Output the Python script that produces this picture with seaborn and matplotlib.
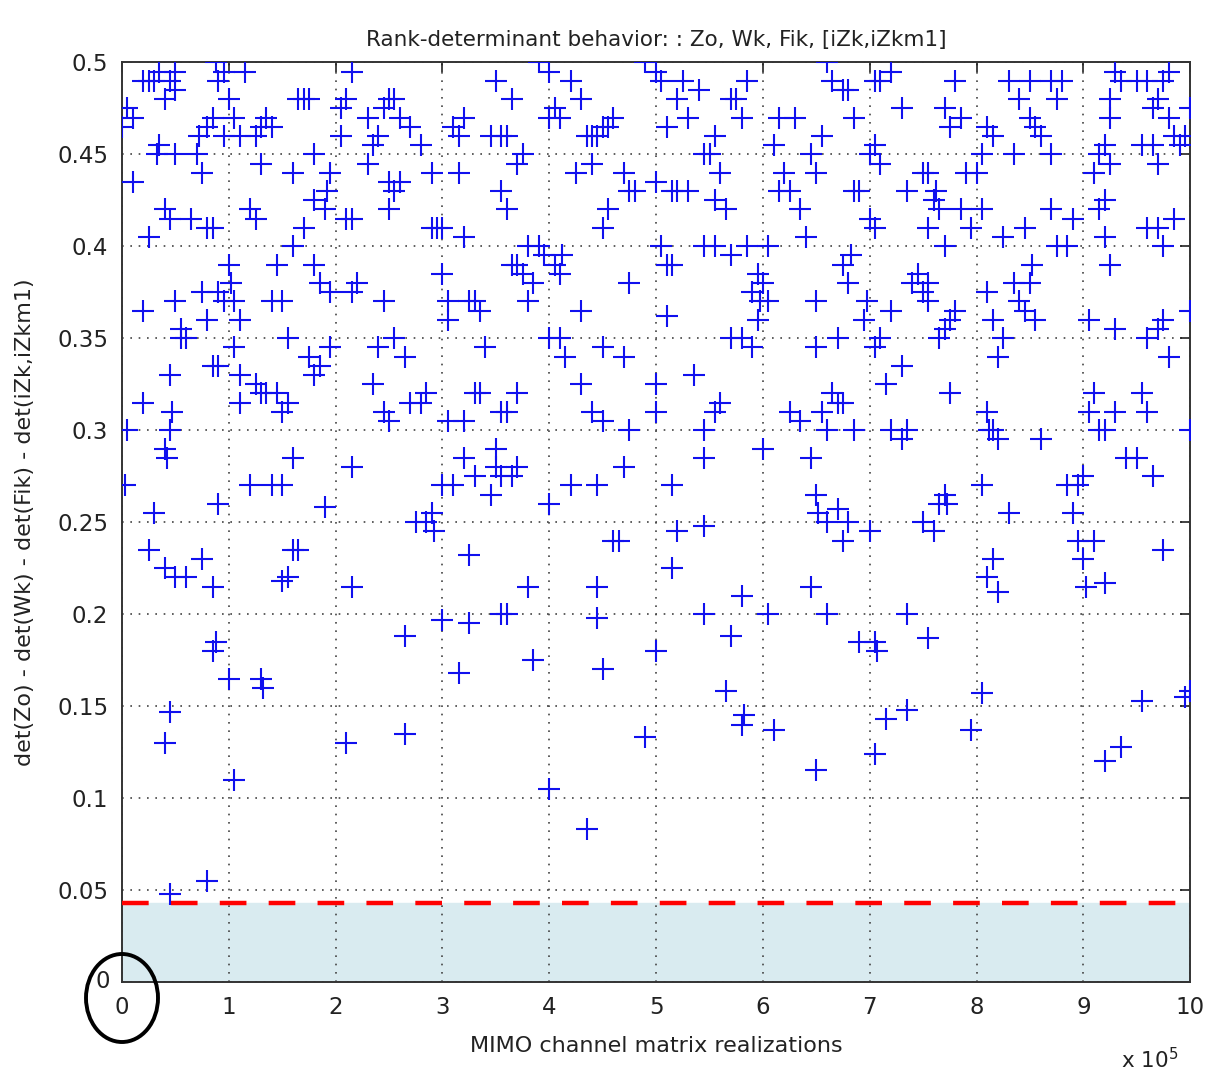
import pandas as pd
import matplotlib.pyplot as plt
import seaborn as sns
from matplotlib.patches import Ellipse

# Điểm, chia theo từng khoảng x (đơn vị 1e5)
band_0 = [(0.0, 0.465), (0.05, 0.475), (0.1, 0.47), (0.03, 0.27), (0.05, 0.30), (0.1, 0.435),
          (0.2, 0.49), (0.25, 0.49), (0.3, 0.49), (0.35, 0.455), (0.35, 0.495), (0.4, 0.48),
          (0.45, 0.49), (0.5, 0.485), (0.5, 0.495), (0.2, 0.315), (0.2, 0.365), (0.25, 0.405),
          (0.25, 0.235), (0.3, 0.255), (0.33, 0.45), (0.4, 0.42), (0.45, 0.415), (0.5, 0.45),
          (0.55, 0.35), (0.5, 0.37), (0.45, 0.33), (0.4, 0.29), (0.45, 0.30), (0.42, 0.285),
          (0.47, 0.31), (0.4, 0.225), (0.5, 0.22), (0.6, 0.22), (0.6, 0.35), (0.55, 0.355),
          (0.4, 0.13), (0.45, 0.147), (0.45, 0.048), (0.65, 0.415), (0.7, 0.45), (0.72, 0.46),
          (0.75, 0.44), (0.75, 0.375), (0.8, 0.36), (0.8, 0.41), (0.85, 0.41), (0.8, 0.465),
          (0.85, 0.47), (0.9, 0.49), (0.88, 0.5), (0.85, 0.335), (0.9, 0.335), (0.9, 0.375),
          (0.95, 0.37), (0.9, 0.26), (0.85, 0.215), (0.75, 0.23), (0.85, 0.18), (0.88, 0.185),
          (0.8, 0.055), (0.95, 0.495), (1.0, 0.48), (0.95, 0.46)]
band_1 = [(1.0, 0.39), (1.02, 0.38), (1.05, 0.37), (1.05, 0.345), (1.1, 0.33), (1.1, 0.315),
          (1.1, 0.36), (1.05, 0.47), (1.1, 0.46), (1.15, 0.495), (1.2, 0.42), (1.25, 0.415),
          (1.25, 0.46), (1.3, 0.445), (1.3, 0.465), (1.35, 0.47), (1.4, 0.465), (1.35, 0.32),
          (1.4, 0.37), (1.45, 0.39), (1.45, 0.32), (1.5, 0.27), (1.4, 0.27), (1.5, 0.37),
          (1.55, 0.35), (1.5, 0.31), (1.55, 0.315), (1.2, 0.27), (1.25, 0.325), (1.3, 0.32),
          (1.0, 0.165), (1.05, 0.11), (1.3, 0.165), (1.32, 0.16), (1.6, 0.285), (1.6, 0.235),
          (1.55, 0.22), (1.65, 0.235), (1.5, 0.218), (1.6, 0.4), (1.6, 0.44), (1.65, 0.48),
          (1.7, 0.48), (1.75, 0.48), (1.7, 0.41), (1.75, 0.34), (1.8, 0.45), (1.8, 0.39),
          (1.85, 0.38), (1.85, 0.335), (1.9, 0.42), (1.92, 0.43), (1.95, 0.44), (1.95, 0.375),
          (1.95, 0.345), (1.9, 0.258), (1.8, 0.425), (1.8, 0.33)]
band_2 = [(2.05, 0.475), (2.1, 0.48), (2.15, 0.495), (2.1, 0.415), (2.15, 0.415), (2.05, 0.46),
          (2.2, 0.38), (2.15, 0.375), (2.3, 0.47), (2.3, 0.445), (2.35, 0.455), (2.4, 0.46),
          (2.45, 0.475), (2.5, 0.48), (2.55, 0.48), (2.5, 0.42), (2.55, 0.43), (2.6, 0.47),
          (2.45, 0.37), (2.4, 0.345), (2.35, 0.325), (2.45, 0.31), (2.5, 0.305), (2.55, 0.35),
          (2.65, 0.34), (2.7, 0.315), (2.8, 0.315), (2.75, 0.25), (2.85, 0.32), (2.9, 0.41),
          (2.95, 0.41), (2.9, 0.44), (2.8, 0.455), (2.7, 0.465), (2.85, 0.25), (2.9, 0.255),
          (2.92, 0.245), (2.15, 0.28), (2.15, 0.215), (2.1, 0.13), (2.65, 0.188), (2.65, 0.135),
          (2.5, 0.435), (2.6, 0.435)]
band_3 = [(3.0, 0.41), (3.0, 0.385), (3.05, 0.36), (3.05, 0.37), (3.1, 0.465), (3.15, 0.46),
          (3.15, 0.44), (3.2, 0.47), (3.2, 0.405), (3.25, 0.37), (3.3, 0.37), (3.35, 0.365),
          (3.35, 0.32), (3.3, 0.32), (3.0, 0.27), (3.05, 0.305), (3.1, 0.27), (3.2, 0.285),
          (3.2, 0.305), (3.3, 0.275), (3.15, 0.168), (3.0, 0.197), (3.25, 0.195), (3.25, 0.232),
          (3.4, 0.345), (3.45, 0.46), (3.5, 0.49), (3.55, 0.46), (3.6, 0.46), (3.65, 0.48),
          (3.55, 0.43), (3.6, 0.42), (3.7, 0.445), (3.75, 0.45), (3.65, 0.39), (3.7, 0.39),
          (3.75, 0.385), (3.8, 0.40), (3.8, 0.37), (3.85, 0.38), (3.9, 0.4), (3.6, 0.31),
          (3.55, 0.31), (3.5, 0.29), (3.45, 0.265), (3.5, 0.28), (3.55, 0.275), (3.7, 0.28),
          (3.65, 0.275), (3.7, 0.32), (3.55, 0.2), (3.6, 0.2), (3.8, 0.215), (3.85, 0.175),
          (3.9, 0.5), (4.0, 0.495)]
band_4 = [(4.0, 0.47), (4.05, 0.475), (4.1, 0.47), (4.05, 0.39), (4.1, 0.385), (4.12, 0.395),
          (3.95, 0.395), (4.0, 0.35), (4.1, 0.35), (4.15, 0.34), (4.3, 0.365), (4.25, 0.44),
          (4.4, 0.445), (4.35, 0.46), (4.4, 0.46), (4.45, 0.46), (4.5, 0.465), (4.2, 0.49),
          (4.3, 0.48), (4.55, 0.465), (4.55, 0.42), (4.7, 0.44), (4.75, 0.43), (4.8, 0.43),
          (4.6, 0.47), (4.5, 0.41), (4.75, 0.38), (4.7, 0.34), (4.3, 0.325), (4.4, 0.31),
          (4.5, 0.305), (4.5, 0.345), (4.2, 0.27), (4.45, 0.27), (4.6, 0.24), (4.65, 0.24),
          (4.75, 0.3), (4.7, 0.28), (4.0, 0.26), (4.45, 0.215), (4.45, 0.198), (4.5, 0.17),
          (4.0, 0.105), (4.35, 0.083), (4.9, 0.5)]
band_5 = [(5.0, 0.435), (5.05, 0.49), (5.0, 0.495), (5.1, 0.465), (5.15, 0.43), (5.2, 0.43),
          (5.3, 0.43), (5.2, 0.48), (5.25, 0.49), (5.3, 0.47), (5.4, 0.485), (5.45, 0.45),
          (5.5, 0.45), (5.55, 0.46), (5.6, 0.44), (5.65, 0.42), (5.55, 0.425), (5.7, 0.48),
          (5.75, 0.48), (5.8, 0.47), (5.85, 0.49), (5.05, 0.4), (5.1, 0.39), (5.15, 0.39),
          (5.45, 0.4), (5.55, 0.4), (5.7, 0.395), (5.85, 0.4), (5.9, 0.375), (5.95, 0.385),
          (5.0, 0.325), (5.0, 0.31), (5.1, 0.362), (5.35, 0.33), (5.45, 0.3), (5.55, 0.31),
          (5.6, 0.315), (5.7, 0.35), (5.8, 0.35), (5.9, 0.345), (5.15, 0.27), (5.2, 0.245),
          (5.45, 0.285), (5.45, 0.248), (5.15, 0.225), (5.0, 0.18), (5.45, 0.2), (5.7, 0.188),
          (5.8, 0.21), (5.8, 0.14), (5.82, 0.145), (5.65, 0.158), (4.9, 0.133), (5.95, 0.36),
          (5.97, 0.37)]
band_6 = [(6.0, 0.38), (6.05, 0.37), (6.05, 0.4), (6.1, 0.455), (6.15, 0.47), (6.2, 0.44),
          (6.25, 0.43), (6.35, 0.42), (6.4, 0.405), (6.15, 0.43), (6.3, 0.47), (6.45, 0.45),
          (6.5, 0.44), (6.55, 0.46), (6.6, 0.5), (6.65, 0.49), (6.75, 0.485), (6.8, 0.485),
          (6.85, 0.47), (6.5, 0.37), (6.5, 0.345), (6.55, 0.31), (6.6, 0.3), (6.7, 0.35),
          (6.75, 0.39), (6.8, 0.38), (6.82, 0.395), (6.85, 0.43), (6.9, 0.43), (6.65, 0.32),
          (6.7, 0.315), (6.75, 0.315), (6.85, 0.3), (6.95, 0.36), (6.97, 0.37), (6.0, 0.29),
          (6.05, 0.2), (6.25, 0.31), (6.45, 0.285), (6.5, 0.265), (6.52, 0.255), (6.6, 0.25),
          (6.7, 0.257), (6.75, 0.24), (6.8, 0.25), (6.35, 0.305), (6.45, 0.215), (6.6, 0.2),
          (6.5, 0.115), (6.1, 0.137), (6.9, 0.185)]
band_7 = [(7.0, 0.415), (7.05, 0.41), (7.0, 0.45), (7.05, 0.455), (7.1, 0.445), (7.05, 0.49),
          (7.1, 0.49), (7.2, 0.495), (7.3, 0.475), (7.35, 0.43), (7.4, 0.38), (7.45, 0.385),
          (7.5, 0.375), (7.55, 0.38), (7.55, 0.41), (7.6, 0.425), (7.62, 0.43), (7.5, 0.44),
          (7.55, 0.44), (7.65, 0.42), (7.7, 0.4), (7.7, 0.355), (7.75, 0.36), (7.65, 0.35),
          (7.55, 0.37), (7.8, 0.49), (7.7, 0.475), (7.75, 0.465), (7.85, 0.47), (7.9, 0.44),
          (7.85, 0.42), (7.95, 0.41), (7.1, 0.35), (7.05, 0.345), (7.2, 0.3), (7.3, 0.295),
          (7.35, 0.3), (7.15, 0.325), (7.3, 0.335), (7.05, 0.185), (7.07, 0.18), (7.15, 0.143),
          (7.05, 0.124), (7.35, 0.2), (7.35, 0.148), (7.55, 0.187), (7.6, 0.245), (7.65, 0.26),
          (7.7, 0.265), (7.75, 0.32), (7.72, 0.26), (7.5, 0.25), (7.0, 0.245), (7.2, 0.365),
          (7.8, 0.365)]
band_8 = [(8.0, 0.44), (8.05, 0.45), (8.1, 0.465), (8.15, 0.46), (8.05, 0.42), (8.1, 0.375),
          (8.15, 0.36), (8.25, 0.35), (8.2, 0.34), (8.1, 0.31), (8.15, 0.3), (8.2, 0.295),
          (8.35, 0.38), (8.4, 0.37), (8.45, 0.365), (8.5, 0.38), (8.52, 0.39), (8.55, 0.36),
          (8.45, 0.41), (8.25, 0.405), (8.35, 0.45), (8.4, 0.48), (8.5, 0.47), (8.55, 0.465),
          (8.6, 0.46), (8.7, 0.45), (8.7, 0.49), (8.75, 0.48), (8.8, 0.49), (8.85, 0.4),
          (8.9, 0.415), (8.75, 0.4), (8.7, 0.42), (8.3, 0.255), (8.05, 0.27), (8.1, 0.22),
          (8.15, 0.23), (8.2, 0.212), (7.95, 0.137), (8.05, 0.157), (8.12, 0.3), (8.6, 0.295),
          (8.85, 0.27), (8.95, 0.27), (8.9, 0.255), (8.95, 0.24), (8.3, 0.49), (8.5, 0.49)]
band_9 = [(9.05, 0.36), (9.15, 0.42), (9.1, 0.44), (9.15, 0.45), (9.2, 0.455), (9.25, 0.445),
          (9.25, 0.47), (9.3, 0.495), (9.35, 0.49), (9.5, 0.49), (9.6, 0.49), (9.65, 0.475),
          (9.7, 0.48), (9.75, 0.49), (9.8, 0.495), (9.55, 0.455), (9.65, 0.455), (9.7, 0.445),
          (9.8, 0.47), (9.85, 0.46), (9.9, 0.455), (9.95, 0.46), (10.0, 0.475), (9.6, 0.41),
          (9.7, 0.41), (9.75, 0.4), (9.85, 0.415), (9.2, 0.405), (9.25, 0.39), (9.2, 0.425),
          (9.3, 0.355), (9.6, 0.35), (9.7, 0.355), (9.75, 0.36), (9.8, 0.34), (10.0, 0.365),
          (9.05, 0.31), (9.1, 0.32), (9.15, 0.3), (9.2, 0.3), (9.5, 0.285), (9.55, 0.32),
          (9.6, 0.31), (9.65, 0.275), (9.4, 0.285), (9.3, 0.31), (9.0, 0.275), (9.0, 0.23),
          (9.1, 0.24), (9.02, 0.215), (9.2, 0.217), (9.75, 0.235), (10.0, 0.3), (9.2, 0.12),
          (9.35, 0.128), (9.55, 0.153), (9.95, 0.155), (10.0, 0.158), (9.25, 0.48)]

threshold = 0.043
y_ticks = [0, 0.05, 0.1, 0.15, 0.2, 0.25, 0.3, 0.35, 0.4, 0.45, 0.5]
y_tick_labels = ['', '0.05', '0.1', '0.15', '0.2', '0.25', '0.3', '0.35', '0.4', '0.45', '0.5']
x_ticks = list(range(0, 11))

bands = [band_0, band_1, band_2, band_3, band_4, band_5, band_6, band_7, band_8, band_9]
df = pd.DataFrame([p for b in bands for p in b], columns=['x', 'y'])

sns.set_theme(style="white")
plt.rcParams['font.family'] = ['DejaVu Sans']

fig = plt.figure(figsize=(12.12, 10.75), dpi=100)
ax = fig.add_axes([0.1007, 0.0865, 0.8813, 0.8555])

# Vùng tô dưới ngưỡng + đường ngưỡng đỏ
ax.axhspan(0, threshold, color='#d9ebf0', zorder=0)
ax.axhline(threshold, color='#ff0000', linestyle=(0, (6, 5)), linewidth=3.2, zorder=3)

sns.scatterplot(data=df, x='x', y='y', marker='+', s=240, color='#1010ee',
                linewidth=1.5, ax=ax, zorder=4, legend=False)

ax.set_xlim(0, 10)
ax.set_ylim(0, 0.5)
ax.set_xticks(x_ticks)
ax.set_xticklabels([str(t) for t in x_ticks])
ax.set_yticks(y_ticks)
ax.set_yticklabels(y_tick_labels)
ax.grid(True, color='#444444', linestyle=(0, (1, 4)), linewidth=1.2)
ax.tick_params(direction='in', length=7, width=1.2, labelsize=16.5, colors='#222222',
               top=True, right=True, pad=10)
for s in ax.spines.values():
    s.set_color('#333333')
    s.set_linewidth(1.4)

ax.set_title('Rank-determinant behavior: : Zo, Wk, Fik, [iZk,iZkm1]',
             fontsize=15.5, color='#222222', pad=12)
ax.set_xlabel('MIMO channel matrix realizations', fontsize=16, color='#222222', labelpad=12)
ax.set_ylabel('det(Zo) - det(Wk) - det(Fik) - det(iZk,iZkm1)', fontsize=16,
              color='#222222', labelpad=16)

# số 0 của trục y lệch lên như hình gốc
fig.text(103 / 1212, 1 - 982 / 1075, '0', fontsize=16.5, color='#222222', ha='center', va='center')
fig.text(1150 / 1212, 1 - 1060 / 1075, r'x 10$^5$', fontsize=15.5, color='#222222',
         ha='center', va='center')

# Vòng elip đen quanh gốc tọa độ
fig.patches.append(Ellipse((122 / 1212, 1 - 998 / 1075), 72 / 1212, 88 / 1075,
                           transform=fig.transFigure, fill=False, edgecolor='black',
                           linewidth=2.8, zorder=10))

plt.savefig('out.png', dpi=100)
plt.close()
